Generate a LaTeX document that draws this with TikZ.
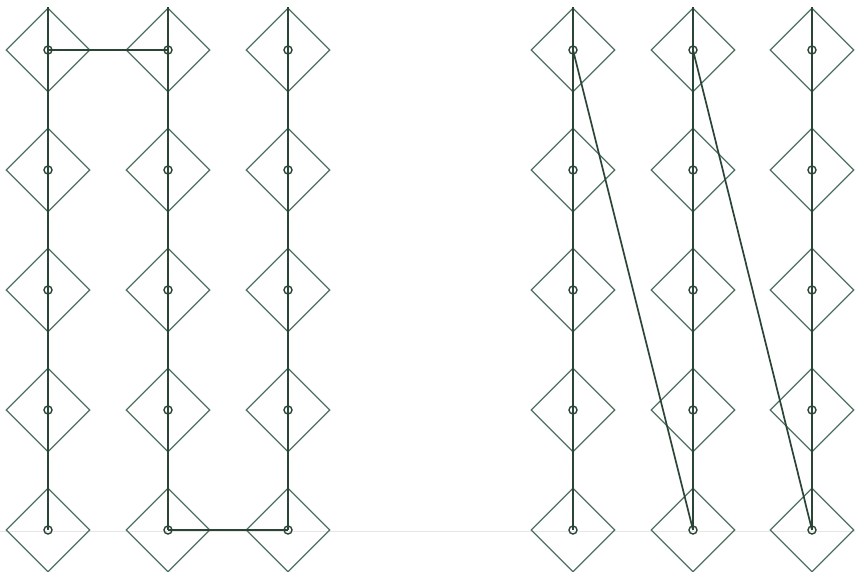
\documentclass[tikz,border=0pt]{standalone}
\usetikzlibrary{shapes.geometric}
\definecolor{dia}{HTML}{4E7060}
\definecolor{wire}{HTML}{2A4536}
\definecolor{faint}{HTML}{E6E6E6}
\tikzset{
  ant/.style={diamond, draw=dia, line width=1.2pt, minimum width=84pt, minimum height=84pt, inner sep=0pt},
  hub/.style={circle, draw=wire, line width=1.4pt, minimum size=8pt, inner sep=0pt},
  wireline/.style={draw=wire, line width=1.7pt},
}
\begin{document}
\begin{tikzpicture}[x=1pt,y=-1pt]
\useasboundingbox (0,0) rectangle (855,572);
\coordinate (gl) at (0,531);
\coordinate (gr) at (855,531);
\draw[faint, line width=0.8pt] (gl) -- (gr);
\foreach \cx [count=\c] in {48,168,288,573,693,812}{
  \foreach \ry [count=\r] in {50,170,290,410,530}{
    \node[ant] (d\c\r) at (\cx,\ry) {};
  }
}
\foreach \c in {1,...,6}{
  \draw[wireline] (d\c1.north) -- (d\c5.center);
}
\draw[wireline] (d11.center) -- (d21.center);
\draw[wireline] (d25.center) -- (d35.center);
\draw[wireline] (d41.center) -- (d55.center);
\draw[wireline] (d51.center) -- (d65.center);
\foreach \c in {1,...,6}{
  \foreach \r in {1,...,5}{
    \node[hub] (h\c\r) at (d\c\r.center) {};
  }
}
\end{tikzpicture}
\end{document}
